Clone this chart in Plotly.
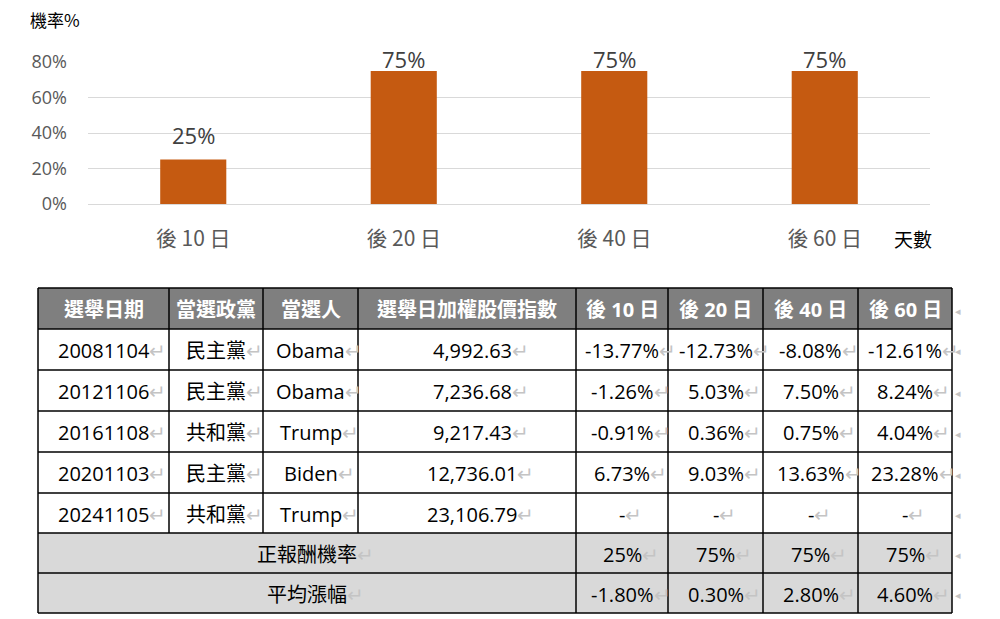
import plotly.graph_objects as go

# ---- bar chart data ----
periods = ["後 10 日", "後 20 日", "後 40 日", "後 60 日"]
win_rate = [0.25, 0.75, 0.75, 0.75]
y_ticks = [0, 0.2, 0.4, 0.6, 0.8]

# ---- table data ----
headers = ["選舉日期", "當選政黨", "當選人", "選舉日加權股價指數",
           "後 10 日", "後 20 日", "後 40 日", "後 60 日"]
dates = ["20081104", "20121106", "20161108", "20201103", "20241105"]
parties = ["民主黨", "民主黨", "共和黨", "民主黨", "共和黨"]
winners = ["Obama", "Obama", "Trump", "Biden", "Trump"]
index_level = ["4,992.63", "7,236.68", "9,217.43", "12,736.01", "23,106.79"]
ret_10 = ["-13.77%", "-1.26%", "-0.91%", "6.73%", "-"]
ret_20 = ["-12.73%", "5.03%", "0.36%", "9.03%", "-"]
ret_40 = ["-8.08%", "7.50%", "0.75%", "13.63%", "-"]
ret_60 = ["-12.61%", "8.24%", "4.04%", "23.28%", "-"]
summary_labels = ["正報酬機率", "平均漲幅"]
avg_return = ["-1.80%", "0.30%", "2.80%", "4.60%"]

CJK = "Noto Sans CJK TC"
LATIN = "Open Sans, Noto Sans CJK TC"
BAR_COLOR = "#c55a11"
MARK = "#c4c4c4"
W, H = 1000, 619

# bar plot area, in pixels from the top of the figure
PLOT_TOP, PLOT_BOTTOM = 62, 204
Y_MAX = 0.8
PX_PER_UNIT = (PLOT_BOTTOM - PLOT_TOP) / Y_MAX

# value labels sit a fixed gap above the bar, but are kept inside the plot area
LABEL_GAP_PX = 25
LABEL_CEILING = 0.817


def px(x):
    return x / W


def py(y):
    return 1 - y / H


fig = go.Figure()

fig.add_trace(go.Bar(
    x=periods, y=win_rate, marker=dict(color=BAR_COLOR, line=dict(width=0)),
    width=0.314, hoverinfo="skip", showlegend=False,
))

# value labels above bars
for p, v in zip(periods, win_rate):
    shift = min(LABEL_GAP_PX, (LABEL_CEILING - v) * PX_PER_UNIT)
    fig.add_annotation(x=p, y=v, xref="x", yref="y", text=f"{v:.0%}",
                       showarrow=False, yanchor="middle", yshift=shift,
                       font=dict(family=LATIN, size=22, color="#404040"))

# axis captions
fig.add_annotation(x=px(28), y=py(20), xref="paper", yref="paper", text="機率%",
                   showarrow=False, xanchor="left", yanchor="middle",
                   font=dict(family=CJK, size=17, color="#000000"))
fig.add_annotation(x=px(913), y=py(238), xref="paper", yref="paper", text="天數",
                   showarrow=False, xanchor="center", yanchor="middle",
                   font=dict(family=CJK, size=19, color="#000000"))

# ---- table geometry (pixels from the top-left corner) ----
col_edges = [38, 169, 263, 358, 576, 668, 763, 858, 952]
row_edges = [288, 329, 370, 411, 452, 493, 533, 573, 613]


def marked(txt, mark=True):
    """Cell text followed by a paragraph mark, balanced so the text stays centred."""
    if not mark:
        return txt
    return (f'<span style="color:rgba(0,0,0,0)">↵</span>{txt}'
            f'<span style="color:{MARK}">↵</span>')


def cell_text(x, y, txt, color="#000000", size=20, bold=False, mark=True):
    t = marked(txt, mark)
    if bold:
        t = f"<b>{t}</b>"
    fig.add_annotation(x=px(x), y=py(y), xref="paper", yref="paper", text=t,
                       showarrow=False, xanchor="center", yanchor="middle",
                       font=dict(family=LATIN, size=size, color=color))


def rect(x0, x1, y0, y1, fill):
    fig.add_shape(type="rect", xref="paper", yref="paper",
                  x0=px(x0), x1=px(x1), y0=py(y0), y1=py(y1),
                  fillcolor=fill, line=dict(width=0), layer="below")


def line(x0, y0, x1, y1, w=1.5):
    fig.add_shape(type="line", xref="paper", yref="paper",
                  x0=px(x0), y0=py(y0), x1=px(x1), y1=py(y1),
                  line=dict(color="#000000", width=w))


# fills
rect(col_edges[0], col_edges[-1], row_edges[0], row_edges[1], "#7f7f7f")
rect(col_edges[0], col_edges[-1], row_edges[6], row_edges[8], "#d9d9d9")

centers = [(a + b) / 2 for a, b in zip(col_edges[:-1], col_edges[1:])]
mids = [(a + b) / 2 + 1 for a, b in zip(row_edges[:-1], row_edges[1:])]

# header
for c, h in zip(centers, headers):
    cell_text(c, mids[0], h, color="#ffffff", size=20, bold=True, mark=False)

# body
columns = [dates, parties, winners, index_level, ret_10, ret_20, ret_40, ret_60]
for r in range(len(dates)):
    for c, col in enumerate(columns):
        cx = 472 if c == 3 else centers[c]
        cell_text(cx, mids[r + 1], col[r])

# summary rows
merge_center = (col_edges[0] + col_edges[4]) / 2
cell_text(merge_center, mids[6], summary_labels[0])
cell_text(merge_center, mids[7], summary_labels[1])
for c in range(4):
    cell_text(centers[4 + c], mids[6], f"{win_rate[c]:.0%}")
    cell_text(centers[4 + c], mids[7], avg_return[c])

# end-of-row marks beside the table
for m in mids:
    fig.add_annotation(x=px(953), y=py(m), xref="paper", yref="paper", text="◂",
                       showarrow=False, xanchor="left", yanchor="middle",
                       font=dict(family=CJK, size=11, color=MARK))

# grid rules
for y in row_edges:
    line(col_edges[0], y, col_edges[-1], y)
for i, x in enumerate(col_edges):
    if i in (1, 2, 3):
        line(x, row_edges[0], x, row_edges[6])
    else:
        line(x, row_edges[0], x, row_edges[-1])

fig.update_layout(
    width=W, height=H, autosize=False,
    margin=dict(l=0, r=0, t=0, b=0, pad=0, autoexpand=False),
    paper_bgcolor="#ffffff", plot_bgcolor="rgba(0,0,0,0)",
    xaxis=dict(domain=[0.088, 0.930], type="category", range=[-0.5, 3.5],
               showgrid=False, showline=False, zeroline=False, ticks="",
               automargin=False,
               tickfont=dict(family=CJK, size=21, color="#595959"),
               ticklabelstandoff=20, fixedrange=True),
    yaxis=dict(domain=[py(PLOT_BOTTOM), py(PLOT_TOP)], range=[0, Y_MAX],
               tickvals=y_ticks, tickformat=".0%", showgrid=True,
               gridcolor="#d9d9d9", gridwidth=1, zeroline=True,
               zerolinecolor="#d9d9d9", zerolinewidth=1, showline=False, ticks="",
               automargin=False,
               tickfont=dict(family=LATIN, size=18, color="#595959"),
               ticklabelstandoff=20, fixedrange=True),
)

fig.write_html("out.html")
